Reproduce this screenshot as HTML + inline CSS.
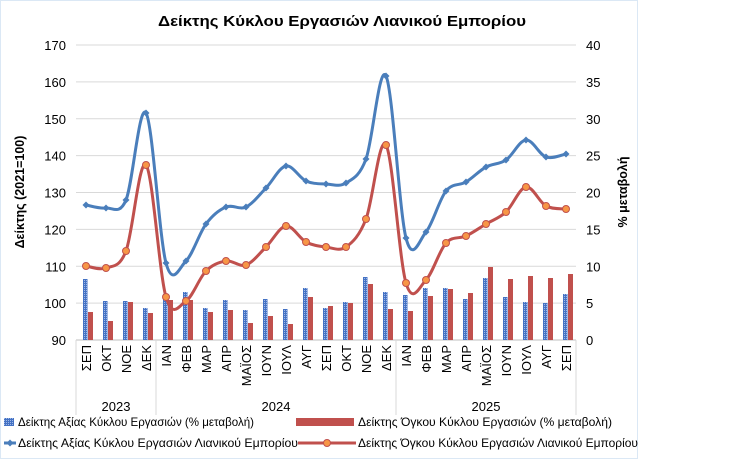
<!DOCTYPE html>
<html><head><meta charset="utf-8"><style>
body{margin:0;background:#fff;width:729px;height:461px;overflow:hidden}
svg{font-family:"Liberation Sans","DejaVu Sans",sans-serif}
</style></head><body>
<svg id="s" width="729" height="461" viewBox="0 0 729 461" xmlns="http://www.w3.org/2000/svg">
<rect x="0.5" y="0.5" width="637" height="458" fill="#fff" stroke="#dbe8f5"/>
<text x="342" y="26" font-size="15" font-weight="bold" text-anchor="middle" fill="#000" textLength="368" lengthAdjust="spacingAndGlyphs">Δείκτης Κύκλου Εργασιών Λιανικού Εμπορίου</text>
<text transform="translate(24,192) rotate(-90)" font-size="12.5" font-weight="bold" text-anchor="middle">Δείκτης (2021=100)</text>
<text transform="translate(627,192) rotate(-90)" font-size="12.5" font-weight="bold" text-anchor="middle">% μεταβολή</text>
<g id="g"></g>
</svg>
<script>
(function(){
var g=document.getElementById('g'),h='';
var T=45,B=340,L=76,R=576;
for(var i=0;i<=8;i++){var y=T+i*(B-T)/8;
 if(i<8)h+='<line x1="'+L+'" x2="'+R+'" y1="'+y+'" y2="'+y+'" stroke="#d9d9d9"/>';
 h+='<text x="66" y="'+(y+5)+'" font-size="13" text-anchor="end">'+(170-10*i)+'</text>';
 h+='<text x="586" y="'+(y+5)+'" font-size="13">'+(40-5*i)+'</text>';}
h+='<line x1="'+L+'" x2="'+R+'" y1="'+B+'" y2="'+B+'" stroke="#bfbfbf"/>';
[76,156,396,576].forEach(function(x){h+='<line x1="'+x+'" x2="'+x+'" y1="340" y2="415" stroke="#d9d9d9"/>';});
var m=["ΣΕΠ","ΟΚΤ","ΝΟΕ","ΔΕΚ","ΙΑΝ","ΦΕΒ","ΜΑΡ","ΑΠΡ","ΜΑΪΟΣ","ΙΟΥΝ","ΙΟΥΛ","ΑΥΓ","ΣΕΠ","ΟΚΤ","ΝΟΕ","ΔΕΚ","ΙΑΝ","ΦΕΒ","ΜΑΡ","ΑΠΡ","ΜΑΪΟΣ","ΙΟΥΝ","ΙΟΥΛ","ΑΥΓ","ΣΕΠ"];
var bb=[279,301,301,308,294,292,308,300,310,299,309,288,308,302,277,292,295,288,288,299,278,297,302,303,294];
var rb=[312,321,302,313,300,300,312,310,323,316,324,297,306,303,284,309,311,296,289,293,267,279,276,278,274];
var bl=[205,208,200,113,263,261,224,207,207,188,166,181,184,183,159,76,238,232,191,182,167,160,140,157,154];
var rl=[266,268,251,165,297,301,271,261,265,247,226,242,247,247,219,145,283,280,243,236,224,212,187,206,209];
var X=function(i){return 86+20*i};
h+='<defs><pattern id="p" width="2" height="2" patternUnits="userSpaceOnUse"><rect width="2" height="2" fill="#4472c4"/><rect width="1" height="1" fill="#9fb8e6"/></pattern></defs>';
for(var i=0;i<25;i++){var x=X(i);
 h+='<rect x="'+(x-3)+'" y="'+bb[i]+'" width="4.5" height="'+(B-bb[i])+'" fill="url(#p)"/>';
 h+='<rect x="'+(x+2)+'" y="'+rb[i]+'" width="5" height="'+(B-rb[i])+'" fill="#c0504d"/>';
 h+='<text transform="translate('+(x+5)+',345) rotate(-90)" font-size="13" text-anchor="end">'+m[i]+'</text>';}
h+='<text x="116" y="411" font-size="13" text-anchor="middle">2023</text><text x="276" y="411" font-size="13" text-anchor="middle">2024</text><text x="486" y="411" font-size="13" text-anchor="middle">2025</text>';
function path(a){var p='M'+X(0)+','+a[0];for(var i=0;i<a.length-1;i++){var p0=a[Math.max(i-1,0)],p1=a[i],p2=a[i+1],p3=a[Math.min(i+2,a.length-1)];
 var x0=X(Math.max(i-1,0)),x1=X(i),x2=X(i+1),x3=X(Math.min(i+2,a.length-1));var t=1/6;
 p+=' C'+(x1+(x2-x0)*t)+','+(p1+(p2-p0)*t)+' '+(x2-(x3-x1)*t)+','+(p2-(p3-p1)*t)+' '+x2+','+p2;}return p;}
h+='<path d="'+path(bl)+'" fill="none" stroke="#4a7ebb" stroke-width="3"/>';
for(var i=0;i<25;i++)h+='<path d="M'+(X(i)-3.5)+','+bl[i]+' L'+X(i)+','+(bl[i]-3.5)+' L'+(X(i)+3.5)+','+bl[i]+' L'+X(i)+','+(bl[i]+3.5)+'Z" fill="#4a7ebb"/>';
h+='<path d="'+path(rl)+'" fill="none" stroke="#c0504d" stroke-width="3"/>';
for(var i=0;i<25;i++)h+='<circle cx="'+X(i)+'" cy="'+rl[i]+'" r="3.5" fill="#f79646" stroke="#c0504d" stroke-width="1"/>';
h+='<rect x="4" y="418" width="10" height="8" fill="url(#p)"/><text x="18" y="426" font-size="12" textLength="236" lengthAdjust="spacingAndGlyphs">Δείκτης Αξίας Κύκλου Εργασιών (% μεταβολή)</text>';
h+='<rect x="296" y="418" width="58" height="8" fill="#c0504d"/><text x="358" y="426" font-size="12" textLength="254" lengthAdjust="spacingAndGlyphs">Δείκτης Όγκου Κύκλου Εργασιών (% μεταβολή)</text>';
h+='<line x1="4" x2="16" y1="443" y2="443" stroke="#4a7ebb" stroke-width="3"/><path d="M6.5,443 L10,439.5 L13.5,443 L10,446.5Z" fill="#4a7ebb"/><text x="18" y="447" font-size="12" textLength="280" lengthAdjust="spacingAndGlyphs">Δείκτης Αξίας Κύκλου Εργασιών Λιανικού Εμπορίου</text>';
h+='<line x1="298" x2="356" y1="443" y2="443" stroke="#c0504d" stroke-width="3"/><circle cx="327" cy="443" r="3.5" fill="#f79646" stroke="#c0504d"/><text x="358" y="447" font-size="12" textLength="280" lengthAdjust="spacingAndGlyphs">Δείκτης Όγκου Κύκλου Εργασιών Λιανικού Εμπορίου</text>';
g.innerHTML=h;
})();
</script>
</body></html>
